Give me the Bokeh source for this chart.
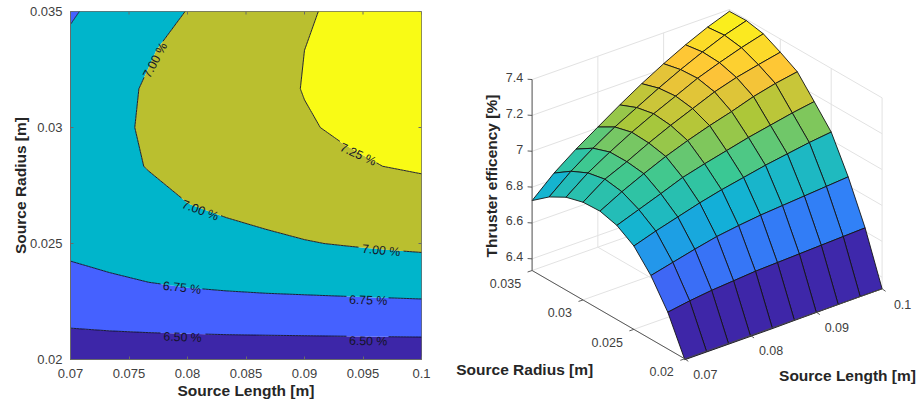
import numpy as np
from bokeh.plotting import figure
from bokeh.plotting.contour import contour_data
from bokeh.layouts import row
from bokeh.models import LinearAxis, FixedTicker, Range1d
from bokeh.core.properties import value
from bokeh.embed import file_html
from bokeh.resources import INLINE

source_length = [0.07, 0.07333, 0.07667, 0.08, 0.08333, 0.08667, 0.09, 0.09333, 0.09667, 0.1]
source_radius = [0.02, 0.02167, 0.02333, 0.025, 0.02667, 0.02833, 0.03, 0.03167, 0.03333, 0.035]

eff_r0 = [6.33, 6.33, 6.33, 6.33, 6.33, 6.332, 6.333, 6.334, 6.335, 6.335]
eff_r1 = [6.54, 6.56, 6.575, 6.585, 6.595, 6.60, 6.605, 6.61, 6.615, 6.62]
eff_r2 = [6.69, 6.72, 6.75, 6.777, 6.795, 6.81, 6.82, 6.83, 6.84, 6.85]
eff_r3 = [6.80, 6.84, 6.875, 6.91, 6.94, 6.965, 6.99, 7.01, 7.03, 7.045]
eff_r4 = [6.86, 6.905, 6.95, 6.997, 7.03, 7.06, 7.09, 7.115, 7.14, 7.16]
eff_r5 = [6.885, 6.95, 7.007, 7.06, 7.105, 7.145, 7.18, 7.22, 7.25, 7.272]
eff_r6 = [6.88, 6.965, 7.019, 7.08, 7.135, 7.185, 7.235, 7.272, 7.30, 7.326]
eff_r7 = [6.853, 6.945, 7.018, 7.085, 7.145, 7.20, 7.256, 7.30, 7.34, 7.374]
eff_r8 = [6.80, 6.90, 6.985, 7.06, 7.125, 7.19, 7.25, 7.305, 7.355, 7.393]
eff_r9 = [6.725, 6.835, 6.925, 7.005, 7.085, 7.16, 7.228, 7.29, 7.345, 7.39]

levels = [6.5, 6.75, 7.0, 7.25]
band_colors = ["#3D26A8", "#4561FF", "#00B5CB", "#BABF2F", "#F9FB15"]

label_x = [0.07724, 0.09458, 0.08109, 0.09655, 0.07952, 0.09544, 0.07958, 0.09544]
label_y = [0.0329, 0.02884, 0.02643, 0.0247, 0.02309, 0.02255, 0.02096, 0.02079]
label_text = ["7.00 %", "7.25 %", "7.00 %", "7.00 %", "6.75 %", "6.75 %", "6.50 %", "6.50 %"]
label_angle = [62, -24, -20, -5, -6, -2, -2, -1]

x_ticks_left = [0.07, 0.075, 0.08, 0.085, 0.09, 0.095, 0.1]
y_ticks_left = [0.02, 0.025, 0.03, 0.035]

x_ticks_3d = [0.07, 0.08, 0.09, 0.1]
x_tick_text_3d = ["0.07", "0.08", "0.09", "0.1"]
y_ticks_3d = [0.02, 0.025, 0.03, 0.035]
y_tick_text_3d = ["0.02", "0.025", "0.03", "0.035"]
z_ticks_3d = [6.4, 6.6, 6.8, 7.0, 7.2, 7.4]
z_tick_text_3d = ["6.4", "6.6", "6.8", "7", "7.2", "7.4"]

parula_stops = [(0.2422, 0.1504, 0.6603), (0.2810, 0.3228, 0.9579), (0.1786, 0.5289, 0.9682),
                (0.0689, 0.6948, 0.8394), (0.2161, 0.7843, 0.5923), (0.6720, 0.7793, 0.2227),
                (0.9970, 0.7659, 0.2199), (0.9769, 0.9839, 0.0805)]

FONT = value("Liberation Sans")
TICK = "#404040"
TITLE = "#262626"
FRAME = "#6a6a6a"

Z = np.array([eff_r0, eff_r1, eff_r2, eff_r3, eff_r4, eff_r5, eff_r6, eff_r7, eff_r8, eff_r9])
X = np.array(source_length)
Y = np.array(source_radius)

# ---------- left: filled contour ----------
FW, FH = 351, 348
P1W, P1H = 450, 405
BL, BT = 70, 11
p1 = figure(width=P1W, height=P1H, x_range=Range1d(0.07, 0.1), y_range=Range1d(0.02, 0.035),
            output_backend="svg", toolbar_location=None, min_border_left=BL, min_border_top=BT,
            min_border_right=P1W - BL - FW, min_border_bottom=P1H - BT - FH, x_axis_type=None, y_axis_type=None,
            frame_align=False)
p1.grid.visible = False
p1.outline_line_color = FRAME
p1.contour(X, Y, Z, levels=[6.0] + levels + [8.0], fill_color=band_colors, line_color=None)

cd = contour_data(X, Y, Z, levels, want_fill=False, want_line=True)
sx = FW / 0.03
sy = FH / 0.015
lx, ly = [], []
for xs, ys in zip(cd.line_data.xs, cd.line_data.ys):
    xs = np.asarray(xs, float)
    ys = np.asarray(ys, float)
    dx, dy = [], []
    for k in range(len(xs) - 1):
        if np.isnan(xs[k]) or np.isnan(xs[k + 1]):
            dx.append(np.nan)
            dy.append(np.nan)
            continue
        dx.extend(np.linspace(xs[k], xs[k + 1], 14))
        dy.extend(np.linspace(ys[k], ys[k + 1], 14))
    dx = np.array(dx)
    dy = np.array(dy)
    for cx, cy, ang in zip(label_x, label_y, label_angle):
        a = np.radians(ang)
        px = (dx - cx) * sx
        py = (dy - cy) * sy
        u = px * np.cos(a) + py * np.sin(a)
        v = -px * np.sin(a) + py * np.cos(a)
        hit = (np.abs(u) < 20) & (np.abs(v) < 8)
        dx = np.where(hit, np.nan, dx)
        dy = np.where(hit, np.nan, dy)
    lx.append(dx)
    ly.append(dy)
p1.multi_line(lx, ly, line_color="#101028", line_width=0.9)

p1.text(label_x, label_y, text=label_text, angle=label_angle, angle_units="deg",
        text_align="center", text_baseline="middle", text_font=FONT, text_font_size="12.3px",
        text_color="#141428")

# tick marks on the top and right sides of the box
tk = 3.0
top_x = [[t, t] for t in x_ticks_left]
top_y = [[0.035, 0.035 - tk / sy] for t in x_ticks_left]
right_x = [[0.1, 0.1 - tk / sx] for t in y_ticks_left]
right_y = [[t, t] for t in y_ticks_left]
p1.multi_line(top_x + right_x, top_y + right_y, line_color=FRAME, line_width=1)


def style_axis(ax):
    ax.major_tick_in = 3
    ax.major_tick_out = 0
    ax.minor_tick_in = 0
    ax.minor_tick_out = 0
    ax.axis_line_color = FRAME
    ax.major_tick_line_color = FRAME
    ax.axis_line_width = 1
    ax.major_label_text_font = "Liberation Sans"
    ax.major_label_text_color = TICK
    ax.major_label_text_font_size = "13px"
    ax.axis_label_text_font = "Liberation Sans"
    ax.axis_label_text_font_style = "bold"
    ax.axis_label_text_font_size = "15.5px"
    ax.axis_label_text_color = TITLE


def fmt(v):
    return "%g" % v


bx = LinearAxis(ticker=FixedTicker(ticks=x_ticks_left),
                major_label_overrides={t: fmt(t) for t in x_ticks_left})
style_axis(bx)
bx.major_label_standoff = 9
bx.axis_label = "Source Length [m]"
bx.axis_label_standoff = 1
p1.add_layout(bx, "below")

ly_ax = LinearAxis(ticker=FixedTicker(ticks=y_ticks_left),
                   major_label_overrides={t: fmt(t) for t in y_ticks_left})
style_axis(ly_ax)
ly_ax.major_label_standoff = 8
ly_ax.axis_label = "Source Radius [m]"
ly_ax.axis_label_standoff = -2
p1.add_layout(ly_ax, "left")

# ---------- right: projected surface ----------
P2W, P2H = 467, 405
p2 = figure(width=P2W, height=P2H, x_range=Range1d(450, 450 + P2W), y_range=Range1d(P2H, 0),
            output_backend="svg", toolbar_location=None, min_border=0, x_axis_type=None, y_axis_type=None,
            frame_align=False)
p2.grid.visible = False
p2.outline_line_color = None

X0, X1 = 0.07, 0.1
Y0, Y1 = 0.02, 0.035
ZF, ZT = 6.335, 7.4


def proj(x, y, z):
    u = (np.asarray(x, float) - X0) / (X1 - X0)
    v = (np.asarray(y, float) - Y0) / (Y1 - Y0)
    w = np.asarray(z, float) - ZF
    return 684.3 + 197.3 * u - 152.7 * v, 358.3 - 70.0 * u - 88.3 * v - 179.3 * w


def seg(a, b):
    sxa, sya = proj(*a)
    sxb, syb = proj(*b)
    return [float(sxa), float(sxb)], [float(sya), float(syb)]


gx, gy = [], []
for t in x_ticks_3d:
    for a, b in [((t, Y1, ZF), (t, Y1, ZT)), ((t, Y0, ZF), (t, Y1, ZF))]:
        s = seg(a, b)
        gx.append(s[0])
        gy.append(s[1])
for t in y_ticks_3d:
    for a, b in [((X1, t, ZF), (X1, t, ZT)), ((X0, t, ZF), (X1, t, ZF))]:
        s = seg(a, b)
        gx.append(s[0])
        gy.append(s[1])
for t in z_ticks_3d:
    for a, b in [((X0, Y1, t), (X1, Y1, t)), ((X1, Y1, t), (X1, Y0, t))]:
        s = seg(a, b)
        gx.append(s[0])
        gy.append(s[1])
p2.multi_line(gx, gy, line_color="#e2e2e2", line_width=1)

zmin, zmax = 6.33, 7.39
stops = np.array(parula_stops)
stop_t = np.linspace(0, 1, len(stops))


def parula(v):
    t = (v - zmin) / (zmax - zmin)
    c = [int(round(255 * np.interp(t, stop_t, stops[:, k]))) for k in range(3)]
    return "#%02x%02x%02x" % tuple(c)


xs, ys, cols = [], [], []
for i in range(len(Y) - 2, -1, -1):
    for j in range(len(X) - 2, -1, -1):
        px = [X[j], X[j + 1], X[j + 1], X[j]]
        py = [Y[i], Y[i], Y[i + 1], Y[i + 1]]
        pz = [Z[i, j], Z[i, j + 1], Z[i + 1, j + 1], Z[i + 1, j]]
        a, b = proj(px, py, pz)
        xs.append(a.tolist())
        ys.append(b.tolist())
        cols.append(parula(Z[i, j]))
p2.patches(xs, ys, fill_color=cols, line_color="#141414", line_width=0.9)

AX = "#4a4a4a"
ax_x, ax_y = [], []
for a, b in [((X0, Y1, ZF), (X0, Y1, ZT)), ((X0, Y0, ZF), (X0, Y1, ZF)), ((X0, Y0, ZF), (X1, Y0, ZF))]:
    s = seg(a, b)
    ax_x.append(s[0])
    ax_y.append(s[1])
p2.multi_line(ax_x, ax_y, line_color=AX, line_width=0.9)

tk_x, tk_y = [], []
for t in z_ticks_3d:
    a, b = proj(X0, Y1, t)
    tk_x.append([float(a), float(a) - 4.5])
    tk_y.append([float(b), float(b) - 0.3])
for t in x_ticks_3d:
    a, b = proj(t, Y0, ZF)
    tk_x.append([float(a), float(a) + 3.5])
    tk_y.append([float(b), float(b) + 2.5])
for t in y_ticks_3d:
    a, b = proj(X0, t, ZF)
    tk_x.append([float(a), float(a) - 4.5])
    tk_y.append([float(b), float(b) + 1.5])
p2.multi_line(tk_x, tk_y, line_color=AX, line_width=0.9)

zx, zy = proj([X0] * len(z_ticks_3d), [Y1] * len(z_ticks_3d), z_ticks_3d)
p2.text(zx - 9, zy - 2, text=z_tick_text_3d, text_align="right", text_baseline="middle",
        text_font=FONT, text_font_size="12.5px", text_color=TICK)
xx, xy = proj(x_ticks_3d, [Y0] * 4, [ZF] * 4)
p2.text(xx + 20.5, xy + 15.5, text=x_tick_text_3d, text_align="center", text_baseline="middle",
        text_font=FONT, text_font_size="12.5px", text_color=TICK)
yx, yy = proj([X0] * 4, y_ticks_3d, [ZF] * 4)
p2.text(yx - 11, yy + 12.7, text=y_tick_text_3d, text_align="right", text_baseline="middle",
        text_font=FONT, text_font_size="12.5px", text_color=TICK)

p2.text([524.2], [369], text=["Source Radius [m]"], text_align="center", text_baseline="middle",
        text_font=FONT, text_font_size="15.5px", text_font_style="bold", text_color=TITLE)
p2.text([847.0], [375], text=["Source Length [m]"], text_align="center", text_baseline="middle",
        text_font=FONT, text_font_size="15.5px", text_font_style="bold", text_color=TITLE)
p2.text([490.7], [175.5], text=["Thruster efficency [%]"], angle=[90], angle_units="deg",
        text_align="center", text_baseline="middle",
        text_font=FONT, text_font_size="15.5px", text_font_style="bold", text_color=TITLE)

layout = row(p1, p2, spacing=0)
open("out.html", "w").write(file_html(layout, INLINE))
